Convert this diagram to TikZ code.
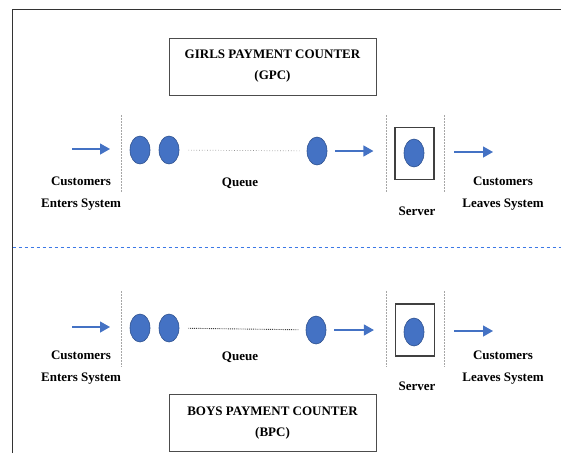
\documentclass[tikz,border=0pt]{standalone}
\usepackage{fontspec}
\setmainfont{Liberation Serif}
\usetikzlibrary{arrows.meta,shapes.geometric}
\definecolor{kblau}{RGB}{68,114,196}
\definecolor{krand}{RGB}{47,82,143}
\definecolor{trenn}{RGB}{60,120,230}

\begin{document}
\begin{tikzpicture}[x=1pt, y=-1pt,
	kunde/.style={ellipse, fill=kblau, draw=krand, line width=0.6pt, minimum width=20pt, minimum height=28pt, inner sep=0pt},
	pfeil/.style={-{Triangle[length=10pt,width=11pt]}, kblau, line width=1.3pt},
	grenze/.style={gray!70, dash pattern=on 1.5pt off 1.5pt, line width=0.6pt},
	schalter/.style={draw=black!75, line width=1.2pt, minimum width=39pt, minimum height=52pt, inner sep=0pt},
	beschr/.style={font=\fontsize{13}{22}\selectfont\bfseries, align=center},
	titel/.style={draw=black!70, line width=0.8pt, minimum width=207pt, minimum height=57pt, font=\fontsize{13}{21}\selectfont\bfseries, align=center}]
	\useasboundingbox (0,0) rectangle (561,453);

	% Rahmen
	\draw[black!80, line width=1.5pt] (12.5,453) -- (12.5,9.5) -- (561,9.5);
	\draw[trenn, dashed, line width=0.8pt] (12.5,247) -- (561,247);

	% Kasse oben
	\node[titel] (gpc) at (272.5,66.5) {GIRLS PAYMENT COUNTER\\(GPC)};
	\foreach \x in {121,386,444}
		\draw[grenze] (\x,115) -- (\x,193);
	\node[kunde] (g1) at (140,150) {};
	\node[kunde] (g2) at (169,150) {};
	\node[kunde] (g3) at (317,151) {};
	\node[schalter] (gsrv) at (414.5,153.5) {};
	\node[kunde] (gs) at (414,153) {};
	\coordinate (gein) at (72,149);
	\coordinate (gein2) at (110,149);
	\coordinate (gaus) at (454,152);
	\coordinate (gaus2) at (493,152);
	\draw[pfeil] (gein) -- (gein2);
	\draw[gray!85, dotted, line width=0.7pt, shorten <=9pt, shorten >=7pt] (g2) -- (g3);
	\draw[pfeil, shorten <=8pt, shorten >=21pt] (g3) -- (g3 -| gsrv.west);
	\draw[pfeil] (gaus) -- (gaus2);
	\node[beschr] (gin) at (81,194) {Customers\\Enters System};
	\node[beschr] (gq) at (240,183) {Queue};
	\node[beschr] (gsv) at (417,211) {Server};
	\node[beschr] (gout) at (503,194) {Customers\\Leaves System};

	% Kasse unten
	\foreach \x in {121,386,444}
		\draw[grenze] (\x,291) -- (\x,367);
	\node[kunde] (b1) at (140,328) {};
	\node[kunde] (b2) at (169,328) {};
	\node[kunde] (b3) at (316,330) {};
	\node[schalter] (bsrv) at (415,330) {};
	\node[kunde] (bs) at (414,332) {};
	\coordinate (bein) at (72,327);
	\coordinate (bein2) at (110,327);
	\coordinate (baus) at (454,331);
	\coordinate (baus2) at (493,331);
	\draw[pfeil] (bein) -- (bein2);
	\draw[black!75, densely dotted, line width=0.9pt, shorten <=9pt, shorten >=7pt] (b2) -- (b3);
	\draw[pfeil, shorten <=8pt, shorten >=21pt] (b3) -- (b3 -| bsrv.west);
	\draw[pfeil] (baus) -- (baus2);
	\node[beschr] (bin) at (81,368) {Customers\\Enters System};
	\node[beschr] (bq) at (240,357) {Queue};
	\node[beschr] (bsv) at (417,386) {Server};
	\node[beschr] (bout) at (503,368) {Customers\\Leaves System};
	\node[titel] (bpc) at (272.5,423) {BOYS PAYMENT COUNTER\\(BPC)};
\end{tikzpicture}
\end{document}
